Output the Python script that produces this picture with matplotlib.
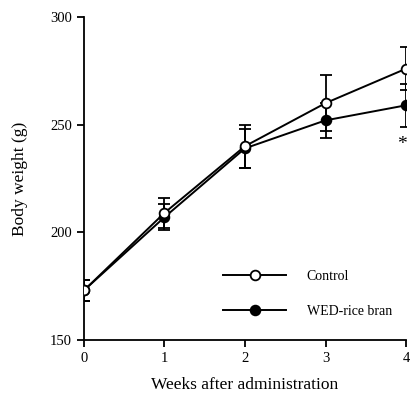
import matplotlib
matplotlib.use("Agg")
import matplotlib.pyplot as plt

weeks = [0, 1, 2, 3, 4]
control = [173, 209, 240, 260, 276]
control_err = [5, 7, 10, 13, 10]
wed = [173, 207, 239, 252, 259]
wed_err = [5, 6, 9, 8, 10]

plt.rcParams["font.family"] = ["Liberation Serif", "DejaVu Serif"]

fig = plt.figure(figsize=(4.11, 4.0), dpi=100)
ax = fig.add_axes([0.204, 0.15, 0.784, 0.8075])

ax.errorbar(weeks, control, yerr=control_err, color="black", lw=1.4,
            marker="o", ms=7, mfc="white", mec="black", mew=1.3,
            capsize=4.5, elinewidth=1.3, capthick=1.3, label="Control", zorder=3)
ax.errorbar(weeks, wed, yerr=wed_err, color="black", lw=1.4,
            marker="o", ms=7, mfc="black", mec="black", mew=1.3,
            capsize=4.5, elinewidth=1.3, capthick=1.3, label="WED-rice bran", zorder=2)

ax.text(3.95, 241, "*", fontsize=14, ha="center", va="center")

ax.set_xlim(0, 4)
ax.set_ylim(150, 300)
ax.set_xticks(weeks)
ax.set_yticks([150, 200, 250, 300])
ax.spines["top"].set_visible(False)
ax.spines["right"].set_visible(False)
ax.spines["left"].set_linewidth(1.3)
ax.spines["bottom"].set_linewidth(1.3)
ax.tick_params(direction="out", length=5, width=1.3, labelsize=10.5)
for sp in ax.spines.values():
    sp.set_clip_on(False)

ax.set_xlabel("Weeks after administration", fontsize=12.5, labelpad=9)
ax.set_ylabel("Body weight (g)", fontsize=12.5, labelpad=16)

handles, labels = ax.get_legend_handles_labels()
handles = [h[0] for h in handles]
leg = ax.legend(handles, labels, loc="lower right", bbox_to_anchor=(0.995, 0.03),
                frameon=False, fontsize=10, handlelength=4.5, labelspacing=1.6,
                handletextpad=1.5)

fig.savefig("out.png", dpi=100)
